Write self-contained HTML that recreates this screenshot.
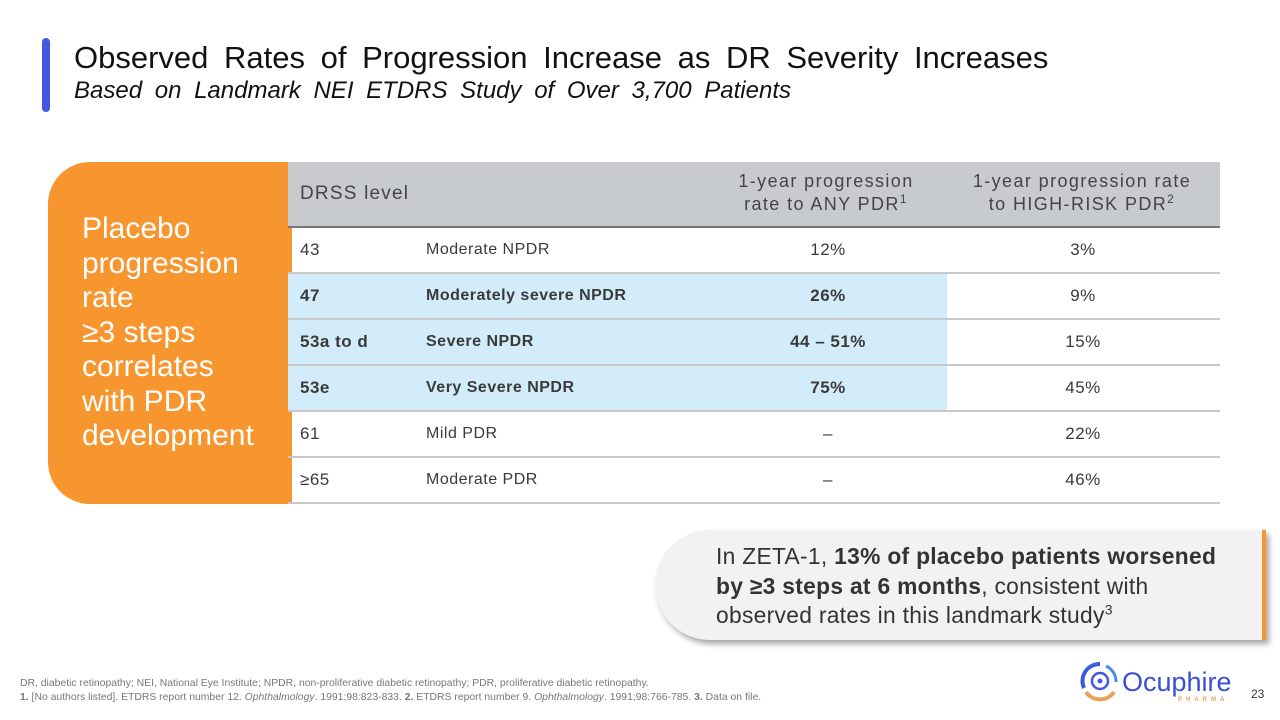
<!DOCTYPE html>
<html><head><meta charset="utf-8"><style>
*{margin:0;padding:0;box-sizing:border-box}
body{width:1280px;height:720px;background:#fff;font-family:"Liberation Sans",sans-serif;position:relative;overflow:hidden;color:#333}
.abs{position:absolute}
sup{line-height:0}
.row{position:absolute;left:288px;width:932px;height:46px;border-bottom:2px solid #c8c8c8}
.row div{position:absolute;top:0;line-height:44px;font-size:17px;color:#3a3a3a;letter-spacing:0.5px}
.c1{left:12px}.c2{left:138px;font-size:16px!important}.c3{left:440px;width:200px;text-align:center}.c4{left:690px;width:210px;text-align:center}
.b div{font-weight:bold}
.hl{position:absolute;left:0;top:0;width:659px;height:44px;background:#d3ecfa}
</style></head><body>
<div class="abs" style="left:42px;top:38px;width:8px;height:74px;background:#4457e0;border-radius:4px"></div>
<div class="abs" style="left:74px;top:40px;font-size:31px;word-spacing:7px;color:#111;white-space:nowrap">Observed Rates of Progression Increase as DR Severity Increases</div>
<div class="abs" style="left:74px;top:77px;font-size:24px;word-spacing:6px;font-style:italic;color:#111;white-space:nowrap">Based on Landmark NEI ETDRS Study of Over 3,700 Patients</div>

<div class="abs" style="left:48px;top:162px;width:244px;height:342px;background:#f7952f;border-radius:42px 0 0 42px"></div>
<div class="abs" style="left:82px;top:212px;font-size:30px;line-height:34.5px;color:#fff;letter-spacing:0px">Placebo<br>progression<br>rate<br>≥3 steps<br>correlates<br>with PDR<br>development</div>

<div class="abs" style="left:288px;top:162px;width:932px;height:66px;background:#c8cbce;border-bottom:2px solid #777"></div>
<div class="abs" style="left:300px;top:183px;font-size:19px;color:#444;letter-spacing:1.2px">DRSS level</div>
<div class="abs" style="left:706px;top:170px;width:240px;text-align:center;font-size:18px;line-height:23px;color:#444;letter-spacing:1.4px">1-year progression<br>rate to ANY PDR<sup style="font-size:12px">1</sup></div>
<div class="abs" style="left:940px;top:170px;width:284px;text-align:center;font-size:18px;line-height:23px;color:#444;letter-spacing:1.4px">1-year progression rate<br>to HIGH-RISK PDR<sup style="font-size:12px">2</sup></div>

<div class="row" style="top:228px"><div class="c1">43</div><div class="c2">Moderate NPDR</div><div class="c3">12%</div><div class="c4">3%</div></div>
<div class="row b" style="top:274px"><span class="hl"></span><div class="c1">47</div><div class="c2">Moderately severe NPDR</div><div class="c3">26%</div><div class="c4" style="font-weight:normal">9%</div></div>
<div class="row b" style="top:320px"><span class="hl"></span><div class="c1">53a to d</div><div class="c2">Severe NPDR</div><div class="c3">44 – 51%</div><div class="c4" style="font-weight:normal">15%</div></div>
<div class="row b" style="top:366px"><span class="hl"></span><div class="c1">53e</div><div class="c2">Very Severe NPDR</div><div class="c3">75%</div><div class="c4" style="font-weight:normal">45%</div></div>
<div class="row" style="top:412px"><div class="c1">61</div><div class="c2">Mild PDR</div><div class="c3">–</div><div class="c4">22%</div></div>
<div class="row" style="top:458px"><div class="c1">≥65</div><div class="c2">Moderate PDR</div><div class="c3">–</div><div class="c4">46%</div></div>

<div class="abs" style="left:655px;top:530px;width:611px;height:110px;background:#f2f2f2;border-radius:55px 0 0 55px;border-right:4px solid #f7952f;box-shadow:3px 4px 6px rgba(0,0,0,0.35)"></div>
<div class="abs" style="left:716px;top:542px;font-size:22.8px;line-height:29.5px;letter-spacing:0.3px;color:#333;white-space:nowrap">In ZETA-1, <b>13% of placebo patients worsened<br>by ≥3 steps at 6 months</b>, consistent with<br>observed rates in this landmark study<sup style="font-size:14px">3</sup></div>

<div class="abs" style="left:20px;top:677px;font-size:10.4px;line-height:14px;color:#777;white-space:nowrap">DR, diabetic retinopathy; NEI, National Eye Institute; NPDR, non-proliferative diabetic retinopathy; PDR, proliferative diabetic retinopathy.<br><b>1.</b> [No authors listed]. ETDRS report number 12. <i>Ophthalmology</i>. 1991;98:823-833. <b>2.</b> ETDRS report number 9. <i>Ophthalmology</i>. 1991;98:766-785. <b>3.</b> Data on file.</div>

<svg class="abs" style="left:1078px;top:660px" width="44" height="42" viewBox="0 0 44 42">
<path d="M22 4 A17 17 0 0 0 6 28" stroke="#3a5be0" stroke-width="4" fill="none"/>
<path d="M8 32 A17 17 0 0 0 36 32" stroke="#e9a25a" stroke-width="4" fill="none"/>
<path d="M28 6 A17 17 0 0 1 38 22" stroke="#4a8be8" stroke-width="3" fill="none"/>
<circle cx="22" cy="21" r="8" stroke="#4457e0" stroke-width="2.5" fill="none"/>
<circle cx="22" cy="21" r="2.5" fill="#4457e0"/></svg>
<div class="abs" style="left:1122px;top:667px;font-size:27px;color:#3b4fd6">Ocuphire</div>
<div class="abs" style="left:1178px;top:697px;font-size:6px;letter-spacing:4px;color:#e9a25a;font-weight:bold">PHARMA</div>
<div class="abs" style="left:1251px;top:687px;font-size:12px;color:#333">23</div>
</body></html>
